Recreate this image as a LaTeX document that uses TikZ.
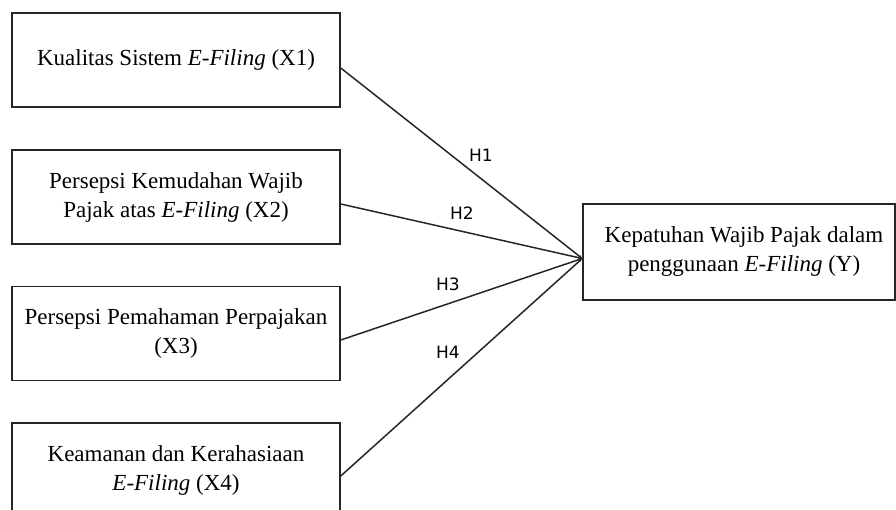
\documentclass[tikz,border=0pt]{standalone}
\usepackage{fontspec}
\setmainfont{Liberation Serif}
\newfontfamily\hfont{DejaVu Sans}
\usetikzlibrary{arrows.meta}
\begin{document}
\begin{tikzpicture}[x=1pt,y=-1pt,
  varbox/.style={draw=black!85,line width=1.5pt,minimum width=328pt,minimum height=94pt,
    inner sep=0pt,align=center,font=\fontsize{23}{29}\selectfont},
  ybox/.style={varbox,minimum width=312pt,minimum height=96pt},
  conn/.style={draw=black!85,line width=1.5pt,-{Stealth[length=4pt,width=3pt]}},
  hlab/.style={font=\hfont\fontsize{17}{20}\selectfont,inner sep=0pt}]
\useasboundingbox (0,0) rectangle (896,510);
\clip (0,0) rectangle (896,510);
\node[varbox] (x1) at (176,60) {Kualitas Sistem \textit{E-Filing} (X1)};
\node[varbox] (x2) at (176,197) {Persepsi Kemudahan Wajib\\Pajak atas \textit{E-Filing} (X2)};
\node[varbox] (x3) at (176,333.5) {Persepsi Pemahaman Perpajakan\\(X3)};
\node[varbox] (x4) at (176,470) {Keamanan dan Kerahasiaan\\\textit{E-Filing} (X4)};
\node[ybox] (y) at (739,252) {\hspace*{10pt}Kepatuhan Wajib Pajak dalam\\\hspace*{10pt}penggunaan \textit{E-Filing} (Y)};
\draw[conn] ([yshift=-8pt]x1.east) -- ([yshift=-6.5pt]y.west);
\draw[conn] ([yshift=-7pt]x2.east) -- ([yshift=-6.5pt]y.west);
\draw[conn] ([yshift=-6.5pt]x3.east) -- ([yshift=-6.5pt]y.west);
\draw[conn] ([yshift=-6pt]x4.east) -- ([yshift=-6.5pt]y.west);
\node[hlab] (h1) at (481,155) {H1};
\node[hlab] (h2) at (462,213) {H2};
\node[hlab] (h3) at (448,284) {H3};
\node[hlab] (h4) at (448,352) {H4};
\end{tikzpicture}
\end{document}
